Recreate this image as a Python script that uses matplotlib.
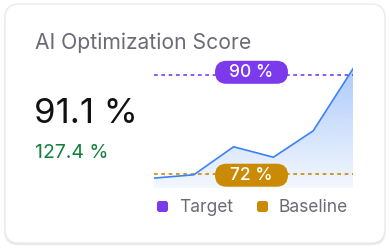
import numpy as np
import matplotlib
matplotlib.use("Agg")
import matplotlib.pyplot as plt
from matplotlib.patches import FancyBboxPatch, Polygon

plt.rcParams['font.family'] = ['Inter', 'DejaVu Sans']

# ---- data ----
title = "AI Optimization Score"
current_value = "91.1 %"
change_value = "127.4 %"
scores = [71.2, 71.8, 76.9, 75.0, 79.8, 91.1]
target = 90
baseline = 72
legend_labels = ["Target", "Baseline"]

W, H = 390, 249
DPI = 100
PURPLE = "#7c3aed"
GOLD = "#ca8a04"
BLUE = "#3b82f6"
GRAY = "#6b6b76"
GREEN = "#15803d"

fig = plt.figure(figsize=(W / DPI, H / DPI), dpi=DPI, facecolor="white")

def P(x, y):
    # top-left pixel coordinates -> display coordinates
    return (x, H - y)

# card shadow and card
for i, a in enumerate([0.03, 0.03, 0.04]):
    sh = FancyBboxPatch(P(5 - i * 0.5, 243 + 1.5 + i * 0.5), 380 + i, 239 + i,
                        boxstyle="round,pad=0,rounding_size=14",
                        transform=None, fc="black", ec="none", alpha=a, zorder=0)
    fig.patches.append(sh)
card = FancyBboxPatch(P(5, 243), 380, 239, boxstyle="round,pad=0,rounding_size=14",
                      transform=None, fc="white", ec="#ebebeb", lw=1, zorder=0.5)
fig.patches.append(card)

fig.text(35 / W, 1 - 43 / H, title, fontsize=15.2, color=GRAY, va="center", ha="left")
fig.text(34 / W, 1 - 114 / H, current_value, fontsize=25, color="#111111", va="center", ha="left")
fig.text(35 / W, 1 - 153 / H, change_value, fontsize=14, color=GREEN, va="center", ha="left")

# ---- chart area ----
ax_l, ax_r, ax_t, ax_b = 154, 353, 66, 188
ax = fig.add_axes([ax_l / W, 1 - ax_b / H, (ax_r - ax_l) / W, (ax_b - ax_t) / H])
ax.set_zorder(2)
ax.set_facecolor("none")
for s in ax.spines.values():
    s.set_visible(False)
ax.set_xticks([])
ax.set_yticks([])

x = np.arange(len(scores))
ymin, ymax = 69.4, 91.6
ax.set_xlim(0, len(scores) - 1)
ax.set_ylim(ymin, ymax)

# gradient area under the line
grad = np.linspace(0.42, 0.06, 256).reshape(-1, 1)
rgba = np.zeros((256, 1, 4))
rgba[..., :3] = matplotlib.colors.to_rgb(BLUE)
rgba[..., 3] = grad[..., 0][:, None]
im = ax.imshow(rgba, extent=[0, len(scores) - 1, ymin, max(scores)], aspect="auto",
               origin="upper", zorder=1, interpolation="bilinear")
verts = [(0, ymin)] + list(zip(x, scores)) + [(len(scores) - 1, ymin)]
poly = Polygon(verts, closed=True, fc="none", ec="none")
ax.add_patch(poly)
im.set_clip_path(poly)
ax.set_xlim(0, len(scores) - 1)
ax.set_ylim(ymin, ymax)
ax.plot(x, scores, color=BLUE, lw=1.2, zorder=3)

# reference lines
ax.axhline(target, color=PURPLE, lw=1.2, ls=(0, (2.2, 2.2)), zorder=2)
ax.axhline(baseline, color=GOLD, lw=1.2, ls=(0, (2.2, 2.2)), zorder=2)

# pills
def pill(val, color, cy_px):
    w, h = 73, 23
    cx = 251.5
    box = FancyBboxPatch(P(cx - w / 2, cy_px + h / 2), w, h,
                         boxstyle="round,pad=0,rounding_size=11.5",
                         transform=None, fc=color, ec="none", zorder=5)
    fig.patches.append(box)
    fig.text(cx / W, 1 - (cy_px + 0.5) / H, f"{val} %", color="white", fontsize=12.5,
             fontweight="medium", ha="center", va="center", zorder=6)

fig.canvas.draw()
def ypix(v):
    return H - ax.transData.transform((0, v))[1]
pill(target, PURPLE, ypix(target) - 2.5)
pill(baseline, GOLD, ypix(baseline) + 1.5)

# legend
for (lx, tx, lab, col) in [(157, 179, legend_labels[0], PURPLE), (257, 279, legend_labels[1], GOLD)]:
    sq = FancyBboxPatch(P(lx, 212), 11, 11, boxstyle="round,pad=0,rounding_size=2.5",
                        transform=None, fc=col, ec="none", zorder=5)
    fig.patches.append(sq)
    fig.text(tx / W, 1 - 207 / H, lab, fontsize=12.5, color=GRAY, ha="left", va="center")

fig.savefig("out.png", dpi=DPI, facecolor="white")
